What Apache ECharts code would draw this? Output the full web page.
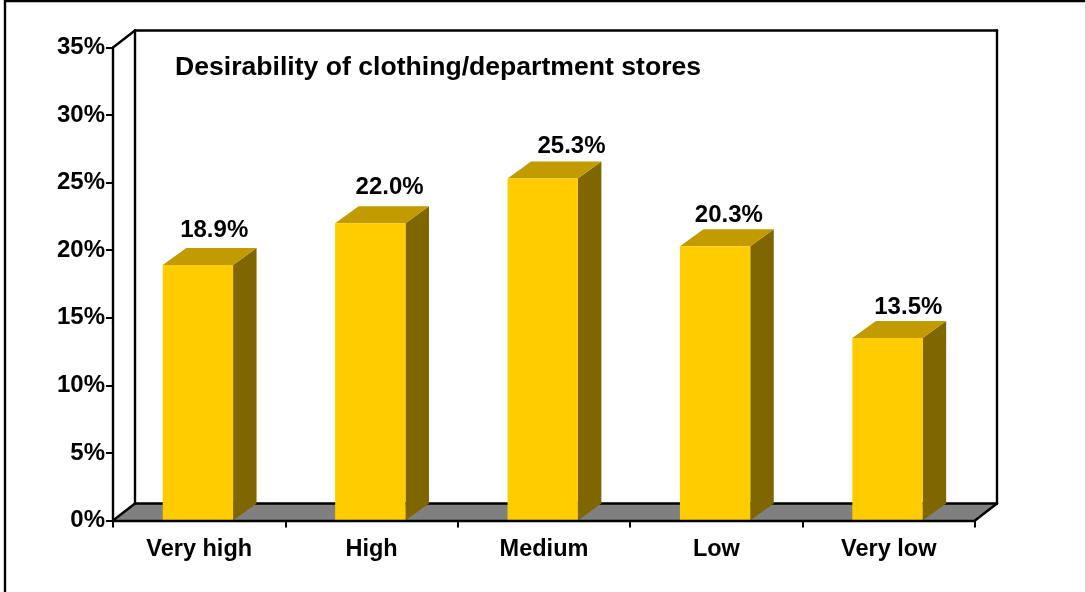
<!DOCTYPE html>
<html><head><meta charset="utf-8">
<style>html,body{margin:0;padding:0;background:#fff;overflow:hidden}#c{width:1086px;height:592px}</style>
<script src="https://cdn.jsdelivr.net/npm/echarts@6/dist/echarts.min.js"></script>
</head><body><div id="c"></div>
<script>
const categories = ['Very high', 'High', 'Medium', 'Low', 'Very low'];
const values = [18.9, 22.0, 25.3, 20.3, 13.5];
const yTicks = [0, 5, 10, 15, 20, 25, 30, 35];
const chartTitle = 'Desirability of clothing/department stores';

const FONT = '"Liberation Sans", Arial, sans-serif';
const DX = 22, DY = 17;
const BAR_DEPTH_DX = 23.5;
const labelNudgeX = [15, 18, 27.5, 12.5, 19.5];
const labelNudgeY = [34.5, 36, 32, 31, 31];

const chart = echarts.init(document.getElementById('c'), null, {renderer: 'canvas'});

function renderFrame(params, api) {
  const c = params.coordSys;
  const l = c.x, r = c.x + c.width, t = c.y, b = c.y + c.height;
  const line = (x1, y1, x2, y2) => ({type: 'line', shape: {x1, y1, x2, y2},
    style: {stroke: '#000', lineWidth: 2.4, lineCap: 'round'}});
  return {type: 'group', children: [
    {type: 'polygon', shape: {points: [[l, b], [l + DX, b - DY], [r + DX, b - DY], [r, b]]},
      style: {fill: '#808080'}},
    line(l + DX, t - DY, r + DX, t - DY),
    line(l + DX, t - DY, l + DX, b - DY),
    line(r + DX, t - DY, r + DX, b - DY),
    line(l + DX, b - DY, r + DX, b - DY),
    line(l, t, l + DX, t - DY),
    line(l, b, l + DX, b - DY),
    line(r, b, r + DX, b - DY)
  ]};
}

function renderBar(params, api) {
  const i = api.value(0), v = api.value(1);
  const top = api.coord([i, v]), base = api.coord([i, 0]);
  const w = api.size([1, 0])[0] * 0.408;
  const x0 = top[0] - 1.3 - w / 2, x1 = x0 + w, yt = top[1], yb = base[1];
  const d = BAR_DEPTH_DX;
  return {type: 'group', children: [
    {type: 'polygon', shape: {points: [[x1, yb], [x1 + d, yb - DY], [x1 + d, yt - DY], [x1, yt]]},
      style: {fill: '#806600'}},
    {type: 'polygon', shape: {points: [[x0, yt], [x0 + d, yt - DY], [x1 + d, yt - DY], [x1, yt]]},
      style: {fill: '#C29B00'}},
    {type: 'rect', shape: {x: x0, y: yt, width: w, height: yb - yt}, style: {fill: '#FFCC00'}},
    {type: 'text', x: top[0] + labelNudgeX[params.dataIndex], y: yt - labelNudgeY[params.dataIndex],
      style: {text: v.toFixed(1) + '%', fill: '#000', font: 'bold 24px ' + FONT,
        align: 'center', verticalAlign: 'middle'}}
  ]};
}

chart.setOption({
  animation: false,
  backgroundColor: '#fff',
  title: {text: chartTitle, left: 170, top: 49,
    textStyle: {fontFamily: FONT, fontWeight: 'bold', fontSize: 26.6, color: '#000'}},
  grid: {left: 113, right: 111, top: 47.5, bottom: 71.5},
  xAxis: {type: 'category', data: categories, z: 10,
    axisLine: {lineStyle: {color: '#000', width: 2.4}},
    axisTick: {show: true, length: 7, lineStyle: {color: '#000', width: 2}, alignWithLabel: false},
    axisLabel: {color: '#000', fontFamily: FONT, fontWeight: 'bold', fontSize: 23.5, margin: 17},
    splitLine: {show: false}},
  yAxis: {type: 'value', min: yTicks[0], max: yTicks[yTicks.length - 1], interval: yTicks[1] - yTicks[0], z: 10,
    axisLine: {show: true, lineStyle: {color: '#000', width: 2.4}},
    axisTick: {show: true, length: 7, lineStyle: {color: '#000', width: 2}},
    axisLabel: {color: '#000', fontFamily: FONT, fontWeight: 'bold', fontSize: 24, margin: 8, formatter: '{value}%'},
    splitLine: {show: false}},
  series: [
    {type: 'custom', name: 'frame', z: 1, silent: true, renderItem: renderFrame, data: [[0, 0]],
      encode: {x: 0, y: 1}, clip: false},
    {type: 'custom', name: 'Desirability', z: 2, renderItem: renderBar,
      data: values.map((v, i) => [i, v]), encode: {x: 0, y: 1}, clip: false}
  ],
  graphic: [
    {type: 'rect', silent: true, z: 100, shape: {x: 5, y: 1, width: 1200, height: 700},
      style: {fill: 'transparent', stroke: '#000', lineWidth: 2.4}},
    {type: 'line', silent: true, z: 100, shape: {x1: 1085.5, y1: 0, x2: 1085.5, y2: 592},
      style: {stroke: '#d0d0d0', lineWidth: 1}}
  ]
});
</script></body></html>
